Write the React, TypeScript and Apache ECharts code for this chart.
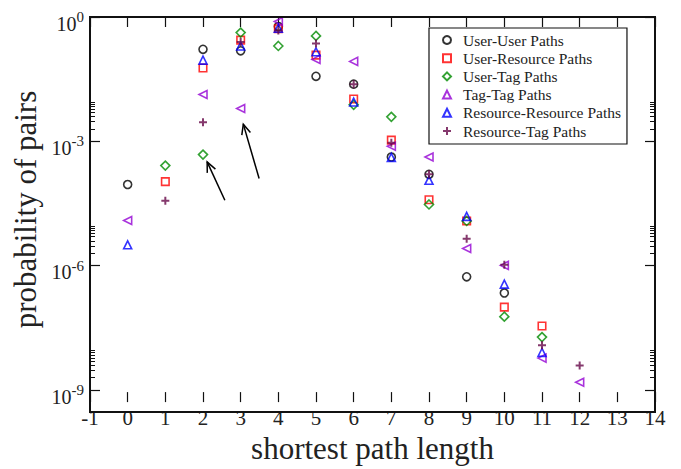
import React, { useEffect, useRef } from "react";
import * as echarts from "echarts";

// shortest path length (x) and probability of pairs (y), null = no point
const pathLengths = [0, 1, 2, 3, 4, 5, 6, 7, 8, 9, 10, 11, 12];
const userUser = [9.1e-5, null, 0.166, 0.153, 0.59, 0.037, 0.024, 4.2e-4, 1.6e-4, 5.4e-7, 2.2e-7, null, null];
const userResource = [null, 1.07e-4, 0.059, 0.277, 0.52, 0.12, 0.0105, 1.07e-3, 3.9e-5, 1.2e-5, 1.0e-7, 3.5e-8, null];
const userTag = [null, 2.6e-4, 4.8e-4, 0.42, 0.2, 0.35, 7.6e-3, 3.9e-3, 3.0e-5, 1.2e-5, 5.9e-8, 1.9e-8, null];
const tagTag = [1.23e-5, null, 0.0135, 6.2e-3, 0.78, 0.095, 0.085, 7.6e-4, 4.2e-4, 2.6e-6, 1.02e-6, 5.9e-9, 1.55e-9];
const resourceResource = [3.2e-6, null, 0.091, 0.2, 0.54, 0.145, 8.9e-3, 4.1e-4, 1.15e-4, 1.55e-5, 3.6e-7, 8.1e-9, null];
const resourceTag = [null, 3.7e-5, 2.9e-3, 0.25, 0.47, 0.23, 0.024, 9.3e-4, 1.6e-4, 4.5e-6, 1.05e-6, 1.2e-8, 3.9e-9];

const seriesNames = [
  "User-User Paths",
  "User-Resource Paths",
  "User-Tag Paths",
  "Tag-Tag Paths",
  "Resource-Resource Paths",
  "Resource-Tag Paths",
];

// x tick range and y decades (exponents of 10)
const xMin = -1;
const xMax = 14;
const yMinExp = -9.29;
const yMaxExp = 0;
const majorExps = [-9, -6, -3, 0];
const minorFactors = [2, 3, 4, 5, 6, 7, 8, 9];

// annotation arrows: [tailX, tailP, tipX, tipP]
const arrows = [
  [2.58, 3.8e-5, 2.11, 3.2e-4],
  [3.49, 1.27e-4, 3.07, 2.6e-3],
];

const FONT = "Liberation Serif";
const W = 681;
const H = 469;
const GRID = { left: 90, right: 26, top: 17, bottom: 57 };

const minorExps: number[] = [];
majorExps.slice(0, 3).forEach((e) => minorFactors.forEach((f) => minorExps.push(e + Math.log10(f))));

function toPoints(vals: (number | null)[]) {
  const out: number[][] = [];
  vals.forEach((v, i) => {
    if (v != null) out.push([pathLengths[i], Math.log10(v)]);
  });
  return out;
}

const hollow = (c: string, w = 1.6) => ({ color: "rgba(0,0,0,0)", borderColor: c, borderWidth: w });

export default function App() {
  const ref = useRef<HTMLDivElement>(null);
  useEffect(() => {
    if (!ref.current) return;
    const chart = echarts.init(ref.current, undefined, { renderer: "svg" });
    const noLine = { show: false, onZero: false };
    const majorTick = (vals?: number[]) => ({
      inside: true,
      length: 10,
      ...(vals ? { customValues: vals } : {}),
      lineStyle: { color: "#111", width: 1.2 },
    });
    const minorTick = { inside: true, length: 5, customValues: minorExps, lineStyle: { color: "#111", width: 1 } };
    const yBase = {
      type: "value" as const,
      min: yMinExp,
      max: yMaxExp,
      splitLine: { show: false },
      axisLine: noLine,
    };
    const xBase = {
      type: "value" as const,
      min: xMin,
      max: xMax,
      interval: 1,
      splitLine: { show: false },
      axisLine: noLine,
    };
    const option: any = {
      animation: false,
      backgroundColor: "#fff",
      grid: { ...GRID, containLabel: false },
      graphic: [
        {
          // plot frame around the grid
          type: "rect",
          silent: true,
          z: 100,
          shape: {
            x: GRID.left,
            y: GRID.top,
            width: W - GRID.left - GRID.right,
            height: H - GRID.top - GRID.bottom,
          },
          style: { stroke: "#111", fill: "none", lineWidth: 2 },
        },
      ],
      legend: {
        data: seriesNames,
        orient: "vertical",
        left: 429,
        top: 28,
        padding: [4, 6, 5, 13],
        itemWidth: 8,
        itemHeight: 8,
        itemGap: 2.2,
        borderColor: "#111",
        borderWidth: 1.2,
        textStyle: { fontFamily: FONT, fontSize: 15.5, color: "#222", lineHeight: 16, padding: [0, 0, 0, 7] },
      },
      xAxis: [
        {
          ...xBase,
          position: "bottom",
          axisTick: majorTick(),
          axisLabel: { fontFamily: FONT, fontSize: 21, color: "#222", margin: 5 },
          name: "shortest path length",
          nameLocation: "middle",
          nameGap: 25,
          nameTextStyle: { fontFamily: FONT, fontSize: 31, color: "#222" },
        },
        {
          ...xBase,
          position: "top",
          axisTick: majorTick(),
          axisLabel: { show: false },
        },
      ],
      yAxis: [
        {
          ...yBase,
          position: "left",
          axisTick: majorTick(majorExps),
          axisLabel: {
            customValues: majorExps,
            margin: 6,
            padding: [5, 0, 0, 0],
            formatter: (v: number) => `{a|10}{b|${Math.round(v)}}`,
            rich: {
              a: { fontFamily: FONT, fontSize: 20, lineHeight: 20, color: "#222", padding: [8, 0, 0, 0] },
              b: { fontFamily: FONT, fontSize: 15, lineHeight: 15, color: "#222", verticalAlign: "top" },
            },
          },
          name: "probability of pairs",
          nameLocation: "middle",
          nameGap: 46,
          nameTextStyle: { fontFamily: FONT, fontSize: 31, color: "#222" },
        },
        {
          ...yBase,
          position: "left",
          axisTick: minorTick,
          axisLabel: { show: false },
        },
        {
          ...yBase,
          position: "right",
          axisTick: majorTick(majorExps),
          axisLabel: { show: false },
        },
        {
          ...yBase,
          position: "right",
          axisTick: minorTick,
          axisLabel: { show: false },
        },
      ],
      series: [
        {
          name: seriesNames[0],
          type: "scatter",
          data: toPoints(userUser),
          symbol: "circle",
          symbolSize: 8,
          itemStyle: hollow("#000000"),
        },
        {
          name: seriesNames[1],
          type: "scatter",
          data: toPoints(userResource),
          symbol: "rect",
          symbolSize: 7.5,
          itemStyle: hollow("#ff0000"),
        },
        {
          name: seriesNames[2],
          type: "scatter",
          data: toPoints(userTag),
          symbol: "diamond",
          symbolSize: 9,
          itemStyle: hollow("#008b00"),
        },
        {
          name: seriesNames[3],
          type: "scatter",
          data: toPoints(tagTag),
          symbol: "triangle",
          symbolRotate: 90,
          symbolSize: 8,
          itemStyle: hollow("#9400d3"),
        },
        {
          name: seriesNames[4],
          type: "scatter",
          data: toPoints(resourceResource),
          symbol: "triangle",
          symbolSize: 8,
          itemStyle: hollow("#0000ff"),
        },
        {
          name: seriesNames[5],
          type: "scatter",
          data: toPoints(resourceTag),
          symbol: "path://M3,0H5V3H8V5H5V8H3V5H0V3H3Z",
          symbolSize: 8,
          itemStyle: { color: "#670748" },
        },
        {
          type: "custom",
          silent: true,
          clip: false,
          data: arrows.map((a) => [a[0], Math.log10(a[1]), a[2], Math.log10(a[3])]),
          encode: { x: [0, 2], y: [1, 3] },
          renderItem: (params: any, api: any) => {
            const t = api.coord([api.value(0), api.value(1)]);
            const h = api.coord([api.value(2), api.value(3)]);
            const ang = Math.atan2(h[1] - t[1], h[0] - t[0]);
            const L = 11;
            const spread = 0.42;
            const w1 = [h[0] - L * Math.cos(ang - spread), h[1] - L * Math.sin(ang - spread)];
            const w2 = [h[0] - L * Math.cos(ang + spread), h[1] - L * Math.sin(ang + spread)];
            return {
              type: "group",
              children: [
                { type: "line", shape: { x1: t[0], y1: t[1], x2: h[0], y2: h[1] }, style: { stroke: "#000", lineWidth: 1.5 } },
                { type: "polyline", shape: { points: [w1, h, w2] }, style: { stroke: "#000", fill: "none", lineWidth: 1.5 } },
              ],
            };
          },
        },
      ],
    };
    chart.setOption(option);
    return () => chart.dispose();
  }, []);
  return (
    <div
      ref={ref}
      style={{ position: "fixed", left: 0, top: 0, width: W, height: H, background: "#fff" }}
    />
  );
}
